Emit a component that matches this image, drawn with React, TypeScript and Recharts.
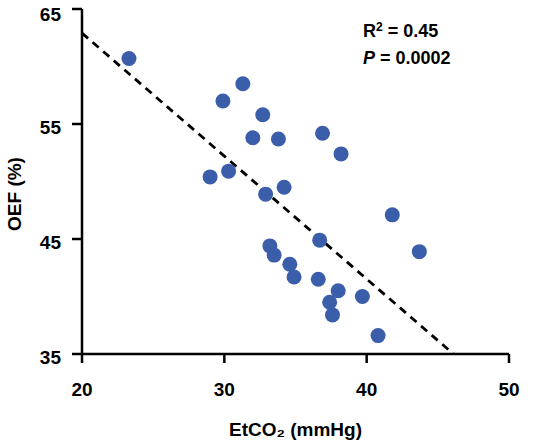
import { ScatterChart, Scatter, XAxis, YAxis, ReferenceLine, Label } from "recharts";

const ETCO2 = [
  23.3, 31.3, 29.9, 32.7, 32.0, 33.8, 36.9, 38.2, 29.0, 30.3, 32.9, 34.2,
  41.8, 43.7, 33.2, 33.5, 36.7, 34.6, 34.9, 36.6, 38.0, 37.4, 39.7, 37.6, 40.8,
];
const OEF = [
  60.7, 58.5, 57.0, 55.8, 53.8, 53.7, 54.2, 52.4, 50.4, 50.9, 48.9, 49.5,
  47.1, 43.9, 44.4, 43.6, 44.9, 42.8, 41.7, 41.5, 40.5, 39.5, 40.0, 38.4, 36.6,
];
const X_TICKS = [20, 30, 40, 50];
const Y_TICKS = [35, 45, 55, 65];
const FIT_LINE = [
  { x: 20, y: 62.9 },
  { x: 46.1, y: 35 },
];

const points = ETCO2.map((x, i) => ({ x, y: OEF[i] }));

const FONT = "Arial, 'Liberation Sans', sans-serif";
const tickStyle = { fontSize: 19, fontWeight: 700, fill: "#000", fontFamily: FONT };

export default function App() {
  return (
    <div style={{ position: "fixed", left: 0, top: 0, width: 540, height: 444, background: "#fff" }}>
      <ScatterChart width={540} height={444} margin={{ top: 9, right: 31, bottom: 2, left: 32 }}>
        <XAxis
          type="number"
          dataKey="x"
          domain={[20, 50]}
          ticks={X_TICKS}
          tick={tickStyle}
          tickSize={9}
          tickMargin={20}
          stroke="#000"
          strokeWidth={2.5}
          height={88}
        >
          <Label
            value="EtCO₂ (mmHg)"
            position="insideBottom"
            offset={6}
            style={{ fontSize: 19, fontWeight: 700, fill: "#000", fontFamily: FONT }}
          />
        </XAxis>
        <YAxis
          type="number"
          dataKey="y"
          domain={[35, 65]}
          ticks={Y_TICKS}
          tick={{ ...tickStyle, dy: 3 }}
          tickSize={10}
          tickMargin={11}
          stroke="#000"
          strokeWidth={2.5}
          width={50}
        >
          <Label
            content={() => (
              <text
                x={21}
                y={194}
                transform="rotate(-90 21 194)"
                textAnchor="middle"
                style={{ fontSize: 19, fontWeight: 700, fill: "#000", fontFamily: FONT }}
              >
                OEF (%)
              </text>
            )}
          />
        </YAxis>
        <ReferenceLine
          segment={FIT_LINE}
          stroke="#000"
          strokeWidth={2.8}
          strokeDasharray="8 6"
          ifOverflow="visible"
        />
        <Scatter
          data={points}
          fill="#3B5EAA"
          isAnimationActive={false}
          shape={(p: any) => <circle cx={p.cx} cy={p.cy} r={7.5} fill="#3B5EAA" />}
        />
      </ScatterChart>
      <div
        style={{
          position: "absolute",
          left: 363,
          top: 18,
          fontFamily: FONT,
          fontWeight: 700,
          fontSize: 18,
          lineHeight: "27px",
          color: "#000",
        }}
      >
        <div>
          R<sup style={{ fontSize: 12, verticalAlign: "top", lineHeight: "18px" }}>2</sup> = 0.45
        </div>
        <div>
          <i>P</i> = 0.0002
        </div>
      </div>
    </div>
  );
}
